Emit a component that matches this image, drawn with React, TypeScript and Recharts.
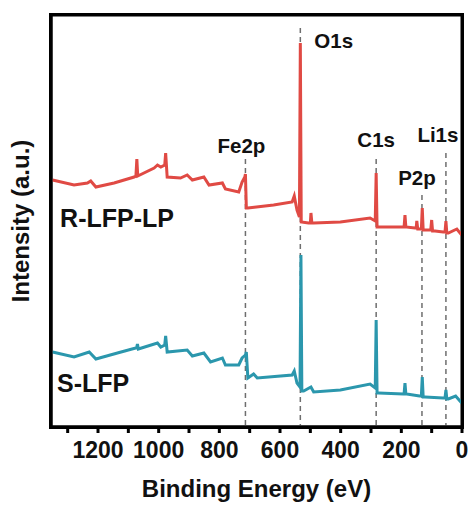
import { LineChart, Line, XAxis, YAxis, ReferenceArea, ReferenceLine, ReferenceDot } from "recharts";

// binding energy (eV) / intensity (a.u.)
const rlfpEnergy = [
  1350, 1279, 1235, 1224, 1207, 1147, 1081, 1075, 1072, 1069, 1015, 1004, 993, 980, 977, 972, 928, 906,
  889, 851, 834, 790, 780, 736, 725, 716, 714, 711, 706, 621, 560, 553, 544, 536, 533, 530, 506, 500,
  498, 495, 489, 401, 303, 286, 283, 280, 275, 193, 191, 188, 185, 155, 151, 149, 146, 140, 134, 131,
  128, 122, 103, 100, 97, 89, 62, 56, 53, 50, 45, 17, 1,
];
const rlfpIntensity = [
  247, 242, 244, 246, 240, 244, 250, 251, 268, 251, 259, 262, 260, 262, 274, 250, 249, 252,
  247, 250, 242, 244, 238, 235, 245, 250, 253, 219, 219, 222, 225, 231, 217, 210, 384, 205, 204, 204,
  214, 204, 204, 205, 209, 206, 254, 200, 200, 200, 200, 212, 200, 199, 199, 206, 198, 198, 198, 219,
  197, 197, 197, 207, 196, 196, 195, 195, 206, 194, 194, 198, 192,
];

const slfpEnergy = [
  1350, 1279, 1229, 1207, 1136, 1076, 1073, 1070, 1067, 1004, 993, 980, 977, 972, 906, 889, 851, 829,
  790, 780, 736, 725, 714, 711, 706, 687, 675, 560, 553, 544, 534, 531, 528, 522, 498, 489, 401, 303,
  286, 283, 280, 275, 193, 191, 188, 185, 182, 140, 134, 131, 128, 122, 62, 56, 53, 50, 45, 21, 1,
];
const slfpIntensity = [
  75, 70, 75, 68, 74, 79, 79, 83, 78, 84, 80, 82, 91, 75, 77, 71, 74, 65,
  69, 62, 62, 69, 72, 75, 49, 53, 49, 52, 56, 44, 40, 172, 36, 36, 40, 35, 37, 43,
  39, 107, 34, 34, 33, 33, 44, 33, 33, 31, 31, 50, 30, 30, 29, 29, 37, 28, 28, 31, 24,
];

const peakNames = ["Fe2p", "O1s", "C1s", "P2p", "Li1s"];
const peakEnergies = [714, 533, 283, 132, 53];

const xTicks = [0, 100, 200, 300, 400, 500, 600, 700, 800, 900, 1000, 1100, 1200, 1300];
const xMax = 1355;
const yMax = 412;

const rlfpData = rlfpEnergy.map((e, i) => ({ energy: e, value: rlfpIntensity[i] }));
const slfpData = slfpEnergy.map((e, i) => ({ energy: e, value: slfpIntensity[i] }));

const FONT = "'Liberation Sans', Arial, Helvetica, sans-serif";
const frame = { stroke: "#000", strokeWidth: 3 };
const M = { top: 15, right: 10, bottom: 10, left: 0 };

// dashed marker layout: top of the dashed line (a.u.) and label offset in px
const peakLayout: Record<string, { top: number; dx: number; dy: number; anchor: "start" | "middle" }> = {
  Fe2p: { top: 268, dx: -4, dy: -6, anchor: "middle" },
  O1s: { top: 399, dx: 14, dy: 20, anchor: "start" },
  C1s: { top: 268, dx: 0, dy: -12, anchor: "middle" },
  P2p: { top: 232, dx: -5, dy: -10, anchor: "middle" },
  Li1s: { top: 274, dx: -8, dy: -11, anchor: "middle" },
};

function textLabel(value: string, size: number, dx: number, dy: number, anchor: "start" | "middle") {
  return (props: any) => {
    const vb = props.viewBox || {};
    return (
      <text
        x={(vb.x ?? 0) + dx}
        y={(vb.y ?? 0) + dy}
        textAnchor={anchor}
        fontFamily={FONT}
        fontWeight="bold"
        fontSize={size}
        fill="#111"
      >
        {value}
      </text>
    );
  };
}

function yTitle(props: any) {
  const vb = props.viewBox || {};
  const cx = (vb.x ?? 0) + 20;
  const cy = (vb.y ?? 0) + (vb.height ?? 0) / 2;
  return (
    <text
      x={cx}
      y={cy}
      transform={`rotate(-90 ${cx} ${cy})`}
      textAnchor="middle"
      dominantBaseline="central"
      fontFamily={FONT}
      fontWeight="bold"
      fontSize={24}
      fill="#111"
    >
      Intensity (a.u.)
    </text>
  );
}

export default function App() {
  return (
    <div style={{ position: "absolute", left: 0, top: 0, width: 472, height: 507, background: "#fff" }}>
      <LineChart width={472} height={507} margin={M}>
        <XAxis
          dataKey="energy"
          type="number"
          domain={[0, xMax]}
          allowDataOverflow
          reversed
          ticks={xTicks}
          interval={0}
          tickFormatter={(v: number) => (v % 200 === 0 ? String(v) : "")}
          height={70}
          tickSize={6}
          tickMargin={9}
          axisLine={frame}
          tickLine={frame}
          tick={{ fill: "#111", fontSize: 23, fontWeight: "bold", fontFamily: FONT }}
          label={{
            value: "Binding Energy (eV)",
            position: "insideBottom",
            offset: 0,
            fill: "#111",
            fontSize: 24,
            fontWeight: "bold",
            fontFamily: FONT,
          }}
        />
        <YAxis
          type="number"
          domain={[0, yMax]}
          allowDataOverflow
          width={51}
          tick={false}
          tickLine={false}
          axisLine={frame}
          label={yTitle}
        />
        {/* box around the plot area */}
        <ReferenceArea
          x1={0}
          x2={xMax}
          y1={0}
          y2={yMax}
          ifOverflow="visible"
          fill="none"
          fillOpacity={0}
          stroke="#000"
          strokeWidth={3}
          strokeOpacity={1}
        />
        {peakNames.map((name, i) => {
          const l = peakLayout[name];
          return (
            <ReferenceLine
              key={name}
              segment={[
                { x: peakEnergies[i], y: l.top },
                { x: peakEnergies[i], y: 0 },
              ]}
              stroke="#6e6e6e"
              strokeWidth={1.5}
              strokeDasharray="5 4"
              label={textLabel(name, 20.5, l.dx, l.dy, l.anchor)}
            />
          );
        })}
        <Line
          data={slfpData}
          dataKey="value"
          type="linear"
          stroke="#2b97ad"
          strokeWidth={3}
          dot={false}
          isAnimationActive={false}
        />
        <Line
          data={rlfpData}
          dataKey="value"
          type="linear"
          stroke="#e04a44"
          strokeWidth={3}
          dot={false}
          isAnimationActive={false}
        />
        <ReferenceDot x={1325} y={200} r={0} fill="none" stroke="none" label={textLabel("R-LFP-LP", 25, 0, 0, "start")} />
        <ReferenceDot x={1335} y={35} r={0} fill="none" stroke="none" label={textLabel("S-LFP", 25, 0, 0, "start")} />
      </LineChart>
      {/* closed frame around the plot area */}
      <div
        style={{
          position: "absolute",
          left: 49,
          top: 13,
          width: 415,
          height: 416,
          border: "3px solid #000",
          boxSizing: "border-box",
          pointerEvents: "none",
          zIndex: 10,
        }}
      />
    </div>
  );
}
